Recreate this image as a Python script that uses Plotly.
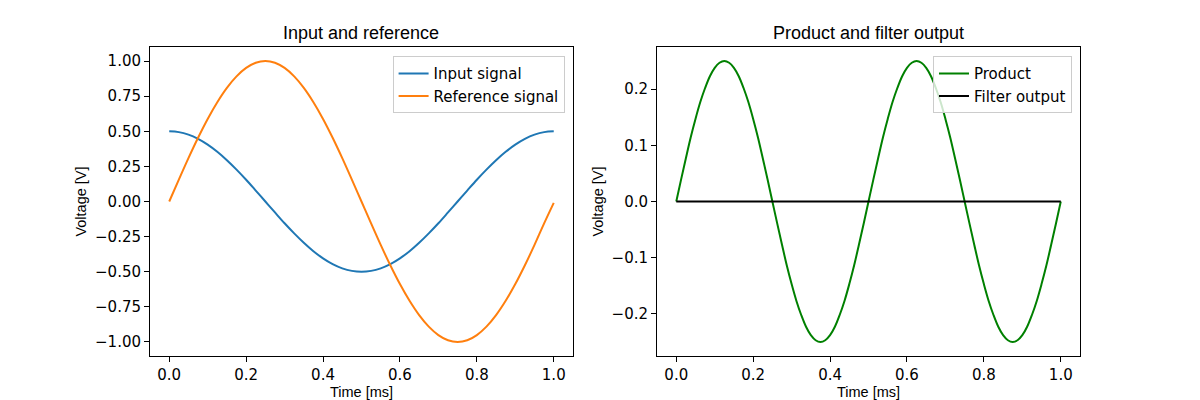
import plotly.graph_objects as go
from plotly.subplots import make_subplots

# Time samples [ms]
t = [0.0, 0.025, 0.05, 0.075, 0.1, 0.125, 0.15, 0.175, 0.2, 0.225,
     0.25, 0.275, 0.3, 0.325, 0.35, 0.375, 0.4, 0.425, 0.45, 0.475,
     0.5, 0.525, 0.55, 0.575, 0.6, 0.625, 0.65, 0.675, 0.7, 0.725,
     0.75, 0.775, 0.8, 0.825, 0.85, 0.875, 0.9, 0.925, 0.95, 0.975, 1.0]

input_signal = [0.5, 0.494, 0.476, 0.446, 0.405, 0.354, 0.294, 0.227, 0.155, 0.078,
                0.0, -0.078, -0.155, -0.227, -0.294, -0.354, -0.405, -0.446, -0.476, -0.494,
                -0.5, -0.494, -0.476, -0.446, -0.405, -0.354, -0.294, -0.227, -0.155, -0.078,
                0.0, 0.078, 0.155, 0.227, 0.294, 0.354, 0.405, 0.446, 0.476, 0.494, 0.5]

reference_signal = [0.0, 0.156, 0.309, 0.454, 0.588, 0.707, 0.809, 0.891, 0.951, 0.988,
                    1.0, 0.988, 0.951, 0.891, 0.809, 0.707, 0.588, 0.454, 0.309, 0.156,
                    0.0, -0.156, -0.309, -0.454, -0.588, -0.707, -0.809, -0.891, -0.951, -0.988,
                    -1.0, -0.988, -0.951, -0.891, -0.809, -0.707, -0.588, -0.454, -0.309, -0.156, -0.01]

# Finer time samples for the faster product curve [ms]
t_fine = [0.0, 0.0125, 0.025, 0.0375, 0.05, 0.0625, 0.075, 0.0875, 0.1, 0.1125,
          0.125, 0.1375, 0.15, 0.1625, 0.175, 0.1875, 0.2, 0.2125, 0.225, 0.2375,
          0.25, 0.2625, 0.275, 0.2875, 0.3, 0.3125, 0.325, 0.3375, 0.35, 0.3625,
          0.375, 0.3875, 0.4, 0.4125, 0.425, 0.4375, 0.45, 0.4625, 0.475, 0.4875,
          0.5, 0.5125, 0.525, 0.5375, 0.55, 0.5625, 0.575, 0.5875, 0.6, 0.6125,
          0.625, 0.6375, 0.65, 0.6625, 0.675, 0.6875, 0.7, 0.7125, 0.725, 0.7375,
          0.75, 0.7625, 0.775, 0.7875, 0.8, 0.8125, 0.825, 0.8375, 0.85, 0.8625,
          0.875, 0.8875, 0.9, 0.9125, 0.925, 0.9375, 0.95, 0.9625, 0.975, 0.9875, 1.0]

product = [0.0, 0.039, 0.077, 0.114, 0.147, 0.177, 0.202, 0.223, 0.238, 0.247,
           0.25, 0.247, 0.238, 0.223, 0.202, 0.177, 0.147, 0.114, 0.077, 0.039,
           0.0, -0.039, -0.077, -0.114, -0.147, -0.177, -0.202, -0.223, -0.238, -0.247,
           -0.25, -0.247, -0.238, -0.223, -0.202, -0.177, -0.147, -0.114, -0.077, -0.039,
           0.0, 0.039, 0.077, 0.114, 0.147, 0.177, 0.202, 0.223, 0.238, 0.247,
           0.25, 0.247, 0.238, 0.223, 0.202, 0.177, 0.147, 0.114, 0.077, 0.039,
           0.0, -0.039, -0.077, -0.114, -0.147, -0.177, -0.202, -0.223, -0.238, -0.247,
           -0.25, -0.247, -0.238, -0.223, -0.202, -0.177, -0.147, -0.114, -0.077, -0.039, 0.0]

t_filter = [0.0, 1.0]
filter_output = [0.0, 0.0]

x_ticks = [0.0, 0.2, 0.4, 0.6, 0.8, 1.0]
x_tick_labels = ["0.0", "0.2", "0.4", "0.6", "0.8", "1.0"]
y1_ticks = [-1.0, -0.75, -0.5, -0.25, 0.0, 0.25, 0.5, 0.75, 1.0]
y1_tick_labels = ["−1.00", "−0.75", "−0.50", "−0.25", "0.00", "0.25", "0.50", "0.75", "1.00"]
y2_ticks = [-0.2, -0.1, 0.0, 0.1, 0.2]
y2_tick_labels = ["−0.2", "−0.1", "0.0", "0.1", "0.2"]

fig = make_subplots(rows=1, cols=2, horizontal_spacing=0.0904)

line_w = 2
fig.add_trace(go.Scatter(x=t, y=input_signal, mode="lines", name="Input signal",
                         line=dict(color="#1f77b4", width=line_w, shape="spline"),
                         legend="legend"), row=1, col=1)
fig.add_trace(go.Scatter(x=t, y=reference_signal, mode="lines", name="Reference signal",
                         line=dict(color="#ff7f0e", width=line_w, shape="spline"),
                         legend="legend"), row=1, col=1)
fig.add_trace(go.Scatter(x=t_fine, y=product, mode="lines", name="Product",
                         line=dict(color="#008000", width=line_w, shape="spline"),
                         legend="legend2"), row=1, col=2)
fig.add_trace(go.Scatter(x=t_filter, y=filter_output, mode="lines", name="Filter output",
                         line=dict(color="#000000", width=line_w),
                         legend="legend2"), row=1, col=2)

tick_font = dict(family="DejaVu Sans", size=15, color="black")
label_font = dict(family="Liberation Sans, Arial", size=14.5, color="black")
axis_common = dict(showgrid=False, zeroline=False, showline=True, linecolor="black",
                   linewidth=1, mirror=True, ticks="outside", ticklen=5, tickwidth=1,
                   tickcolor="black", tickfont=tick_font)

fig.update_xaxes(**axis_common, range=[-0.05, 1.05], tickvals=x_ticks, ticktext=x_tick_labels,
                 title=dict(text="Time [ms]", font=label_font, standoff=0))
fig.update_yaxes(**axis_common)
fig.update_yaxes(range=[-1.1, 1.1], tickvals=y1_ticks, ticktext=y1_tick_labels,
                 title=dict(text="Voltage [V]", font=label_font, standoff=4), row=1, col=1)
fig.update_yaxes(range=[-0.275, 0.275], tickvals=y2_ticks, ticktext=y2_tick_labels,
                 title=dict(text="Voltage [V]", font=label_font, standoff=4), row=1, col=2)

legend_common = dict(bgcolor="rgba(255,255,255,0.8)", bordercolor="#cccccc", borderwidth=1,
                     font=dict(family="DejaVu Sans", size=15, color="black"),
                     xanchor="right", yanchor="top", tracegroupgap=0, itemwidth=30)

fig.update_layout(
    width=1192, height=392,
    margin=dict(l=142, r=120, t=39, b=44, autoexpand=False),
    plot_bgcolor="white", paper_bgcolor="white",
    showlegend=True,
    legend=dict(**legend_common, x=0.4458, y=0.97),
    legend2=dict(**legend_common, x=0.9914, y=0.97),
    annotations=[
        dict(text="Input and reference", x=0.2274, y=1.0, xref="paper", yref="paper",
             xanchor="center", yanchor="bottom", yshift=2, showarrow=False,
             font=dict(family="Liberation Sans, Arial", size=18, color="black")),
        dict(text="Product and filter output", x=0.7726, y=1.0, xref="paper", yref="paper",
             xanchor="center", yanchor="bottom", yshift=2, showarrow=False,
             font=dict(family="Liberation Sans, Arial", size=18, color="black")),
    ],
)

fig.write_html("out.html")
